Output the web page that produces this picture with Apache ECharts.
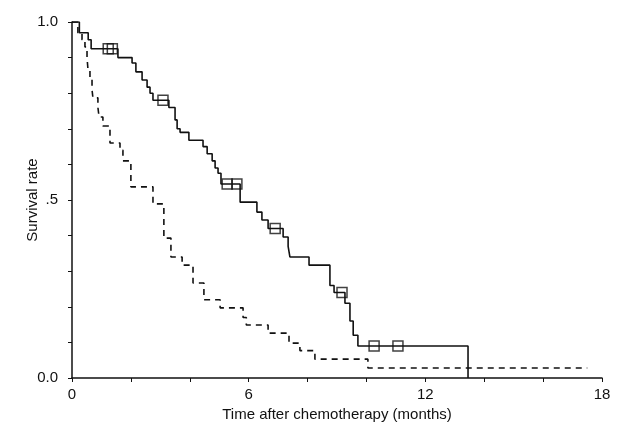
<!DOCTYPE html>
<html>
<head>
<meta charset="utf-8">
<script src="https://cdn.jsdelivr.net/npm/echarts@6/dist/echarts.min.js"></script>
<style>
html,body{margin:0;padding:0;background:#fff;}
#chart{width:619px;height:429px;}
</style>
</head>
<body>
<div id="chart"></div>
<script>
// Solid curve (step times in months, survival after each step)
var solidTimes = [0, 0.25, 0.55, 0.65, 1.56, 2.04, 2.17, 2.38, 2.55, 2.65, 2.75, 3.29, 3.5, 3.57, 3.67, 3.97, 4.45, 4.59, 4.76, 4.86, 4.96, 5.06, 5.71, 6.28, 6.45, 6.66, 7.17, 7.34, 7.4, 8.05, 8.76, 8.9, 9.27, 9.44, 9.55, 9.71, 13.45];
var solidSurv  = [1.0, 0.97, 0.95, 0.925, 0.90, 0.885, 0.86, 0.837, 0.817, 0.80, 0.78, 0.76, 0.725, 0.70, 0.69, 0.668, 0.65, 0.63, 0.61, 0.59, 0.575, 0.545, 0.494, 0.466, 0.444, 0.42, 0.396, 0.37, 0.34, 0.317, 0.26, 0.24, 0.21, 0.16, 0.12, 0.09, 0.0];
// Censored observations on the solid curve
var censorTimes = [1.23, 1.37, 3.09, 5.27, 5.6, 6.9, 9.17, 10.26, 11.07];
var censorSurv  = [0.925, 0.925, 0.78, 0.545, 0.545, 0.42, 0.24, 0.09, 0.09];
// Dashed curve
var dashTimes = [0, 0.2, 0.34, 0.44, 0.51, 0.54, 0.61, 0.68, 0.71, 0.88, 0.92, 1.05, 1.29, 1.63, 1.73, 2.0, 2.75, 3.12, 3.36, 3.74, 4.11, 4.48, 5.03, 5.81, 5.92, 6.66, 7.37, 7.74, 8.25, 10.05, 17.5];
var dashSurv  = [1.0, 0.97, 0.95, 0.93, 0.90, 0.87, 0.84, 0.81, 0.787, 0.76, 0.733, 0.708, 0.66, 0.64, 0.61, 0.537, 0.489, 0.393, 0.34, 0.317, 0.267, 0.22, 0.197, 0.17, 0.149, 0.126, 0.098, 0.077, 0.053, 0.028, 0.028];
// Tick labels
var xTickLabels = {0: '0', 6: '6', 12: '12', 18: '18'};
var yTickLabels = {'0.0': '0.0', '0.5': '.5', '1.0': '1.0'};

function zip(a, b) { return a.map(function (v, i) { return [v, b[i]]; }); }

var ink = '#111';
var chart = echarts.init(document.getElementById('chart'), null, {renderer: 'canvas'});
chart.setOption({
  animation: false,
  backgroundColor: '#fff',
  grid: {left: 72, right: 17, top: 22, bottom: 51},
  xAxis: {
    type: 'value', min: 0, max: 18, interval: 2,
    name: 'Time after chemotherapy (months)', nameLocation: 'middle', nameGap: 22,
    nameTextStyle: {color: ink, fontSize: 15, fontFamily: 'Liberation Sans'},
    axisLine: {lineStyle: {color: ink, width: 1.5}},
    axisTick: {length: 4, lineStyle: {color: ink, width: 1}},
    axisLabel: {
      color: ink, fontSize: 15, fontFamily: 'Liberation Sans', margin: 9,
      formatter: function (v) { return xTickLabels[v] !== undefined ? xTickLabels[v] : ''; }
    },
    splitLine: {show: false}
  },
  yAxis: {
    type: 'value', min: 0, max: 1, interval: 0.1,
    name: 'Survival rate', nameLocation: 'middle', nameGap: 32, nameMoveOverlap: false,
    nameTextStyle: {color: ink, fontSize: 15, fontFamily: 'Liberation Sans'},
    axisLine: {show: true, lineStyle: {color: ink, width: 1.5}},
    axisTick: {show: true, length: 4, lineStyle: {color: ink, width: 1}},
    axisLabel: {
      color: ink, fontSize: 15, fontFamily: 'Liberation Sans', margin: 14,
      formatter: function (v) { var k = v.toFixed(1); return yTickLabels[k] !== undefined ? yTickLabels[k] : ''; }
    },
    splitLine: {show: false}
  },
  series: [
    {
      type: 'line', step: 'end', data: zip(solidTimes, solidSurv),
      showSymbol: false, symbol: 'none',
      lineStyle: {color: ink, width: 1.6}
    },
    {
      type: 'line', step: 'end', data: zip(dashTimes, dashSurv),
      showSymbol: false, symbol: 'none',
      lineStyle: {color: ink, width: 1.6, type: [6, 5]}
    },
    {
      type: 'scatter', data: zip(censorTimes, censorSurv),
      symbol: 'rect', symbolSize: 10,
      itemStyle: {color: 'rgba(0,0,0,0)', borderColor: ink, borderWidth: 1.5},
      z: 5
    }
  ]
});
</script>
</body>
</html>
